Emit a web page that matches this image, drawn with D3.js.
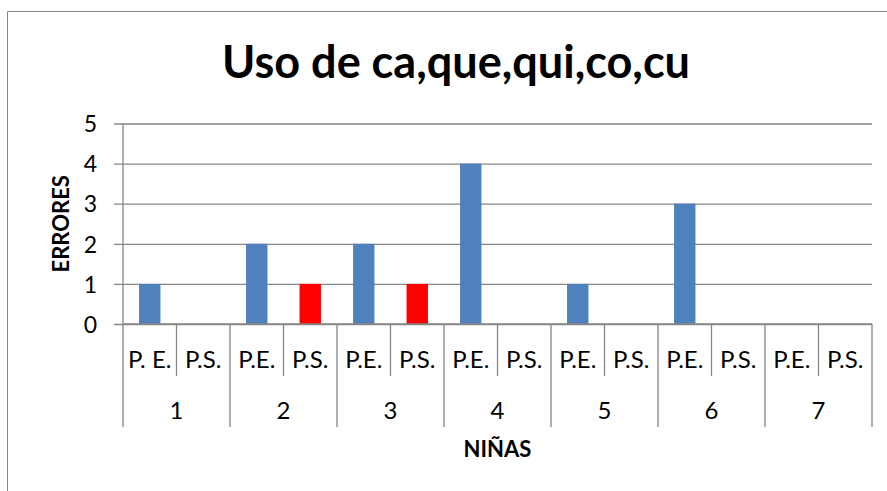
<!DOCTYPE html>
<html>
<head>
<meta charset="utf-8">
<script src="https://cdn.jsdelivr.net/npm/d3@7"></script>
<style>
  body { margin: 0; background: #fff; }
  text { font-family: Lato, "Open Sans", sans-serif; fill: #000; }
</style>
</head>
<body>
<svg id="chart" width="887" height="491"></svg>
<script>
// data
const groups = ["1", "2", "3", "4", "5", "6", "7"];
const subLabels = [["P. E.", "P.S."], ["P.E.", "P.S."], ["P.E.", "P.S."], ["P.E.", "P.S."],
                   ["P.E.", "P.S."], ["P.E.", "P.S."], ["P.E.", "P.S."]];
const peValues = [1, 2, 2, 4, 1, 3, 0];
const psValues = [0, 1, 1, 0, 0, 0, 0];
const yTicks = [0, 1, 2, 3, 4, 5];

const title = "Uso de ca,que,qui,co,cu";
const yTitle = "ERRORES";
const xTitle = "NIÑAS";

const colorPE = "#4F81BD";
const colorPS = "#FF0000";
const gridColor = "#868686";

const svg = d3.select("#chart");

// chart frame (extends past the window on right and bottom)
svg.append("path")
  .attr("d", "M7.5,1000 V11.5 H1000")
  .attr("fill", "none")
  .attr("stroke", gridColor)
  .attr("stroke-width", 1);

const plot = {left: 123, right: 872, top: 123.5, bottom: 324};

// flatten to the 14 sub categories
const cells = [];
groups.forEach((g, i) => {
  cells.push({key: g + "-PE", group: g, label: subLabels[i][0], value: peValues[i], color: colorPE});
  cells.push({key: g + "-PS", group: g, label: subLabels[i][1], value: psValues[i], color: colorPS});
});

const x = d3.scaleBand()
  .domain(cells.map(d => d.key))
  .range([plot.left, plot.right])
  .padding(0);

const xGroup = d3.scaleBand()
  .domain(groups)
  .range([plot.left, plot.right])
  .padding(0);

const y = d3.scaleLinear()
  .domain([0, 5])
  .range([plot.bottom, plot.top]);

// y axis with gridlines
const yAxis = svg.append("g")
  .attr("transform", `translate(${plot.left},0)`)
  .call(d3.axisLeft(y).tickValues(yTicks).tickSize(-(plot.right - plot.left)).tickFormat(d3.format("d")));
yAxis.select(".domain").remove();
yAxis.selectAll(".tick line")
  .attr("x1", -9)
  .attr("stroke", gridColor)
  .attr("stroke-width", 1.3);
yAxis.selectAll(".tick text")
  .attr("x", -26)
  .attr("dy", "0.36em")
  .style("font-size", "23px")
  .style("font-family", "Lato, sans-serif");

svg.append("line")
  .attr("x1", plot.left).attr("x2", plot.left)
  .attr("y1", plot.top).attr("y2", plot.bottom)
  .attr("stroke", gridColor).attr("stroke-width", 1.3);

// bars
const barW = x.bandwidth() / 2.5;
svg.append("g").selectAll("rect")
  .data(cells.filter(d => d.value > 0))
  .join("rect")
  .attr("x", d => x(d.key) + (x.bandwidth() - barW) / 2)
  .attr("y", d => y(d.value))
  .attr("width", barW)
  .attr("height", d => y(0) - y(d.value))
  .attr("fill", d => d.color);

// category axis (two levels)
const xAxis = svg.append("g");
xAxis.append("line")
  .attr("x1", plot.left).attr("x2", plot.right)
  .attr("y1", plot.bottom).attr("y2", plot.bottom)
  .attr("stroke", gridColor).attr("stroke-width", 1.3);

const subBounds = cells.map(d => x(d.key)).concat([plot.right]);
xAxis.selectAll(".subtick")
  .data(subBounds)
  .join("line")
  .attr("class", "subtick")
  .attr("x1", d => d).attr("x2", d => d)
  .attr("y1", plot.bottom)
  .attr("y2", (d, i) => i % 2 === 0 ? 427 : 376)
  .attr("stroke", gridColor).attr("stroke-width", 1.3);

xAxis.selectAll(".sublabel")
  .data(cells)
  .join("text")
  .attr("class", "sublabel")
  .attr("x", d => x(d.key) + x.bandwidth() / 2)
  .attr("y", 368)
  .attr("text-anchor", "middle")
  .style("font-size", "24px")
  .text(d => d.label);

xAxis.selectAll(".grouplabel")
  .data(groups)
  .join("text")
  .attr("class", "grouplabel")
  .attr("x", d => xGroup(d) + xGroup.bandwidth() / 2)
  .attr("y", 419)
  .attr("text-anchor", "middle")
  .style("font-size", "24px")
  .text(d => d);

// titles
svg.append("text")
  .attr("x", 456)
  .attr("y", 78)
  .attr("text-anchor", "middle")
  .attr("textLength", 468)
  .attr("lengthAdjust", "spacingAndGlyphs")
  .style("font-size", "45px")
  .style("font-weight", "bold")
  .text(title);

svg.append("text")
  .attr("transform", `translate(69,${(plot.top + plot.bottom) / 2}) rotate(-90)`)
  .attr("text-anchor", "middle")
  .style("font-size", "22px")
  .style("font-weight", "bold")
  .text(yTitle);

svg.append("text")
  .attr("x", (plot.left + plot.right) / 2)
  .attr("y", 457)
  .attr("text-anchor", "middle")
  .style("font-size", "22px")
  .style("font-weight", "bold")
  .text(xTitle);
</script>
</body>
</html>
